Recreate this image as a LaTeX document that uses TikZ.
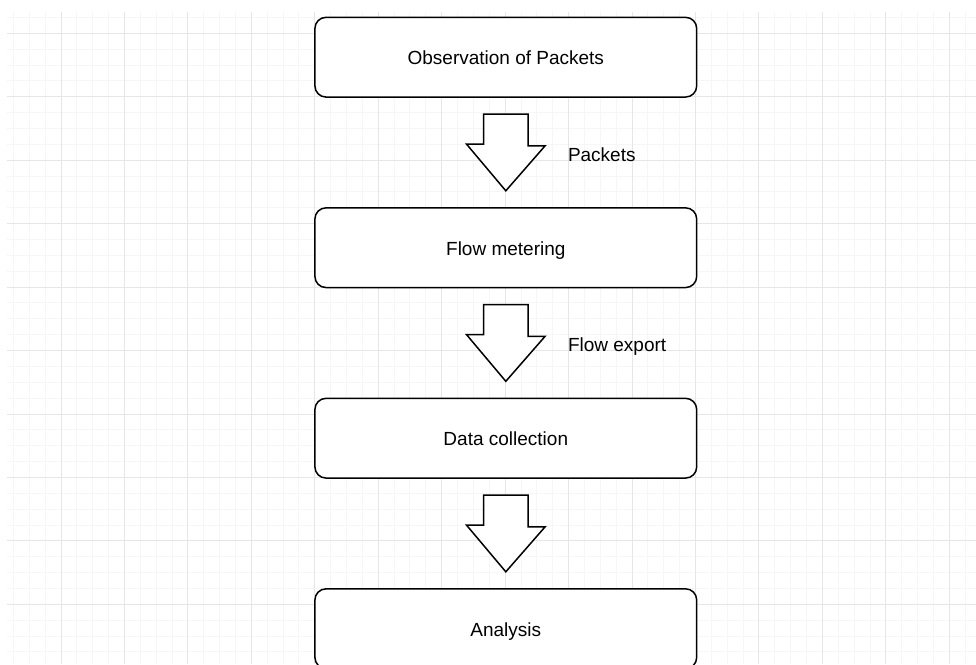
\documentclass[tikz,border=0pt]{standalone}
\usepackage{fontspec}
\setmainfont{Liberation Sans}
\usetikzlibrary{calc}
\definecolor{gridminor}{HTML}{F6F6F6}
\definecolor{gridmajor}{HTML}{E6E6E6}
\tikzset{
  stagebox/.style={draw=black, line width=1.5pt, fill=white, rounded corners=11pt,
    minimum width=381.7pt, minimum height=79.7pt, inner sep=0pt,
    font=\fontsize{19}{23}\selectfont, text height=15pt, text depth=0pt},
  blockarrow/.style={draw=black, line width=1.5pt, fill=white, line join=miter},
  lbl/.style={inner sep=0pt, anchor=base west, font=\fontsize{19}{23}\selectfont}
}
\begin{document}
\begin{tikzpicture}[x=1pt, y=-1pt]
\useasboundingbox (0,0) rectangle (976,664);
\fill[white] (0,0) rectangle (976,664);
% grid
\begin{scope}
\clip (7,12) rectangle (976,664);
\foreach \i in {-3,...,58} {
  \draw[gridminor, line width=1pt] ({61+15.8625*\i},12) -- ({61+15.8625*\i},664);
}
\foreach \j in {-1,...,41} {
  \draw[gridminor, line width=1pt] (7,{33.3+15.8625*\j}) -- (976,{33.3+15.8625*\j});
}
\foreach \i in {0,...,14} {
  \draw[gridmajor, line width=1pt] ({61+63.45*\i},12) -- ({61+63.45*\i},664);
}
\foreach \j in {0,...,10} {
  \draw[gridmajor, line width=1pt] (7,{33.3+63.45*\j}) -- (976,{33.3+63.45*\j});
}
\end{scope}
% boxes
\node[stagebox] (b1) at (505.8,57.2) {Observation of Packets};
\node[stagebox] (b2) at (505.8,247.7) {Flow metering};
\node[stagebox] (b3) at (505.8,438.2) {Data collection};
\node[stagebox] (b4) at (505.8,628.7) {Analysis};
% block arrows
\foreach \a/\b in {b1/b2, b2/b3, b3/b4} {
  \draw[blockarrow] ($(\a.south)+(-22.3,16.3)$) -- ++(44.6,0) -- ++(0,31.7) -- ++(17,0)
    -- ($(\b.north)+(0,-16.3)$) -- ++(-39.3,-46.7) -- ++(17,0) -- cycle;
}
% labels
\node[lbl] (l1) at ($(b1.south)+(62,63.6)$) {Packets};
\node[lbl] (l2) at ($(b2.south)+(62,63.6)$) {Flow export};
\end{tikzpicture}
\end{document}
